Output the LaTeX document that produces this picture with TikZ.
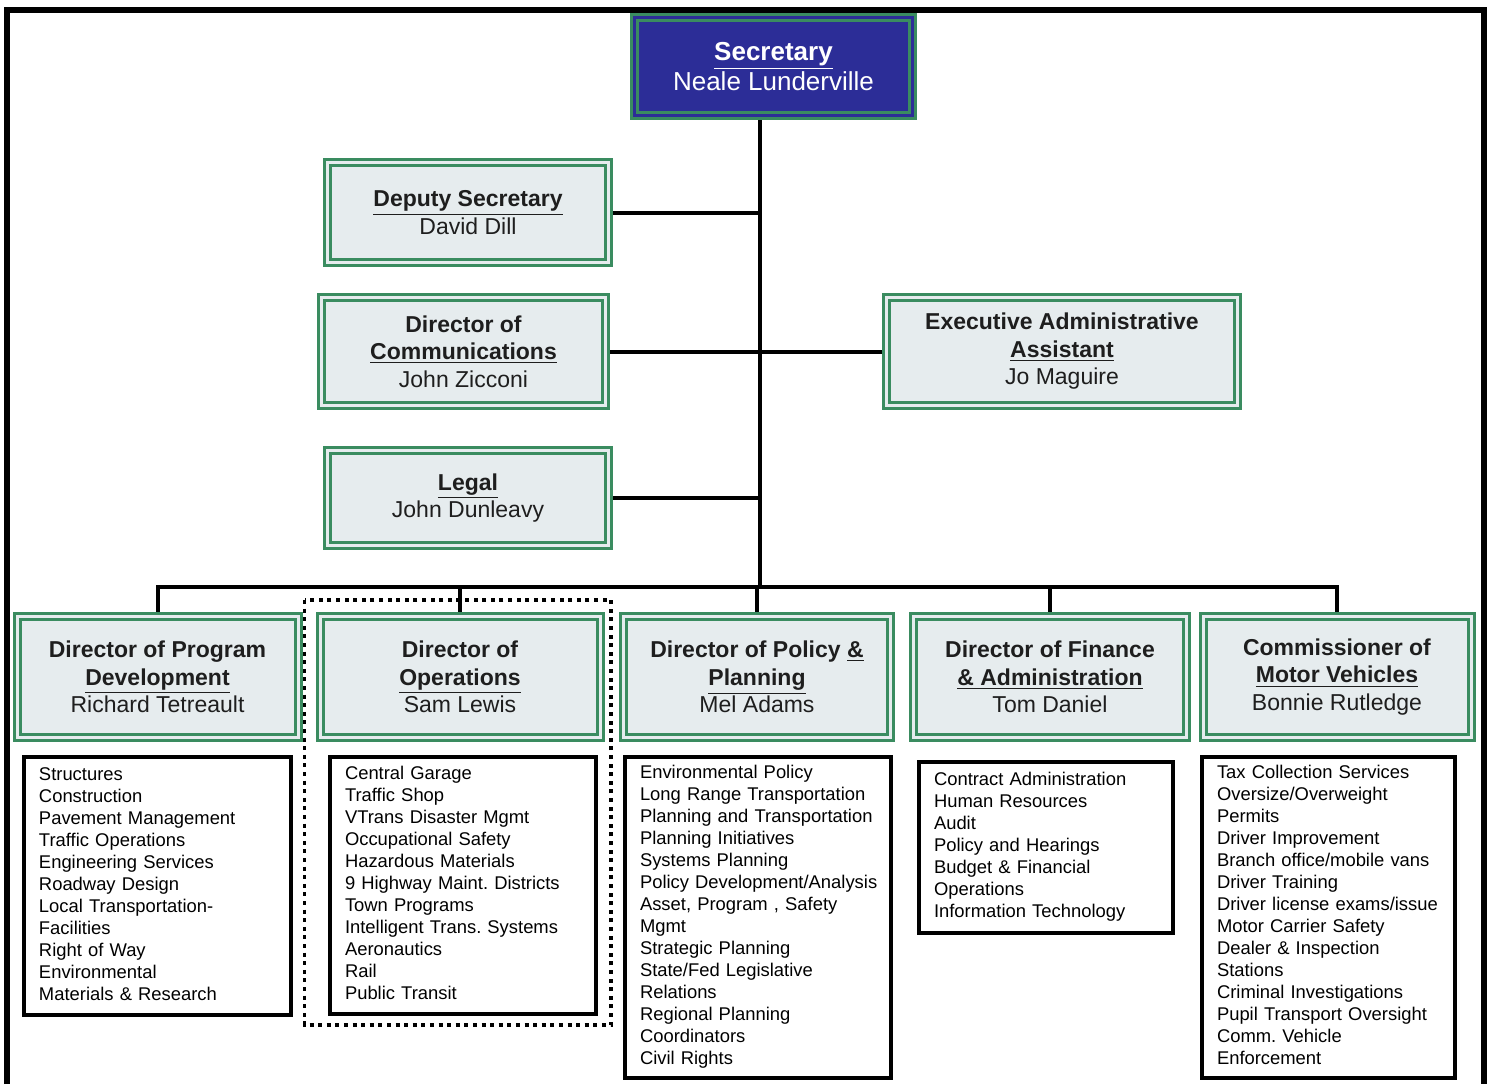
\documentclass[tikz,border=0pt]{standalone}
\usepackage{fontspec}
\setmainfont{Liberation Sans}
\usepackage{xcolor}
\usepackage{tikz}
\usetikzlibrary{backgrounds,positioning}
\frenchspacing
\definecolor{vtGreen}{HTML}{3A8C60}
\definecolor{vtFill}{HTML}{E6ECEE}
\definecolor{vtBlue}{HTML}{2C2D97}
\definecolor{vtInk}{HTML}{1E1E1E}
\newcommand{\ulbf}[1]{\underline{\textbf{#1}}}
\newcommand{\vtitems}[1]{\begin{tabular}{@{}l@{}}#1\end{tabular}}
\tikzset{
  vt chart/.style={x=0.5pt, y=-0.5pt, line join=miter},
  vt box/.style={draw=vtGreen, double=vtFill, double distance=1.5pt,
    line width=1.5pt, fill=vtFill, align=center, text=vtInk, inner sep=2pt,
    font=\fontsize{11.5}{13.75}\selectfont},
  vt top box/.style={vt box, fill=vtBlue, double=vtBlue, text=white,
    font=\fontsize{13}{15}\selectfont},
  vt list/.style={draw=black, line width=2pt, fill=white, align=left,
    inner xsep=7.5pt, inner ysep=0pt, font=\fontsize{9.2}{11}\selectfont},
  vt wire/.style={draw=black, line width=2pt},
  vt frame/.style={draw=black, line width=3pt},
  vt group/.style={draw=black, line width=1.8pt, dash pattern=on 2pt off 2.3pt}
}

\begin{document}
\begin{tikzpicture}[vt chart]
\useasboundingbox (0,0) rectangle (1489,1084);
\draw[vt frame] (7,1084) -- (7,10) -- (1484,10) -- (1484,1084);
\coordinate (bus) at (760,587);

\node[vt top box, minimum width=139pt, minimum height=49pt] (sec) at (773.5,66.5)
  {\ulbf{Secretary}\\Neale Lunderville};
\node[vt box, minimum width=140.5pt, minimum height=50pt] (dep) at (468,212.5)
  {\ulbf{Deputy Secretary}\\David Dill};
\node[vt box, minimum width=142pt, minimum height=54pt] (com) at (463.5,351.5)
  {\textbf{Director of}\\\ulbf{Communications}\\John Zicconi};
\node[vt box, minimum width=175.5pt, minimum height=54pt] (exe) at (1062,351.5)
  {\textbf{Executive Administrative}\\\ulbf{Assistant}\\Jo Maguire};
\node[vt box, minimum width=140.5pt, minimum height=47.5pt] (leg) at (468,498)
  {\ulbf{Legal}\\John Dunleavy};

\node[vt box, minimum width=140.5pt, minimum height=60.5pt] (prog) at (157.5,677)
  {\textbf{Director of Program}\\\ulbf{Development}\\Richard Tetreault};
\node[vt box, minimum width=140pt, minimum height=60.5pt] (ops) at (460,677)
  {\textbf{Director of}\\\ulbf{Operations}\\Sam Lewis};
\node[vt box, minimum width=133.5pt, minimum height=60.5pt] (pol) at (757,677)
  {\textbf{Director of Policy \underline{\&}}\\\ulbf{Planning}\\Mel Adams};
\node[vt box, minimum width=136.5pt, minimum height=60.5pt] (fin) at (1050,677)
  {\textbf{Director of Finance}\\\ulbf{\& Administration}\\Tom Daniel};
\node[vt box, minimum width=134pt, minimum height=60.5pt] (dmv) at (1337,677)
  {\textbf{Commissioner of}\\\ulbf{Motor Vehicles}\\Bonnie Rutledge};

\node[vt list, text width=118.5pt, minimum height=129pt] (progList) at (157.5,886)
  {\vtitems{Structures\\Construction\\Pavement Management\\Traffic Operations\\
  Engineering Services\\Roadway Design\\Local Transportation-\\Facilities\\
  Right of Way\\Environmental\\Materials \& Research}};
\node[vt list, text width=118pt, minimum height=128.5pt] (opsList) at (463,885.5)
  {\vtitems{Central Garage\\Traffic Shop\\VTrans Disaster Mgmt\\Occupational Safety\\
  Hazardous Materials\\9 Highway Maint. Districts\\Town Programs\\
  Intelligent Trans. Systems\\Aeronautics\\Rail\\Public Transit}};
\node[vt list, text width=118pt, minimum height=160.5pt] (polList) at (758,917.5)
  {\vtitems{Environmental Policy\\Long Range Transportation\\Planning and Transportation\\
  Planning Initiatives\\Systems Planning\\Policy Development/Analysis\\
  Asset, Program , Safety\\Mgmt\\Strategic Planning\\State/Fed Legislative\\
  Relations\\Regional Planning\\Coordinators\\Civil Rights}};
\node[vt list, text width=112pt, minimum height=85.5pt] (finList) at (1046,847.5)
  {\vtitems{Contract Administration\\Human Resources\\Audit\\Policy and Hearings\\
  Budget \& Financial\\Operations\\Information Technology}};
\node[vt list, text width=111.5pt, minimum height=160.5pt] (dmvList) at (1328.5,917.5)
  {\vtitems{Tax Collection Services\\Oversize/Overweight\\Permits\\Driver Improvement\\
  Branch office/mobile vans\\Driver Training\\Driver license exams/issue\\
  Motor Carrier Safety\\Dealer \& Inspection\\Stations\\Criminal Investigations\\
  Pupil Transport Oversight\\Comm. Vehicle\\Enforcement}};

\begin{scope}[on background layer]
\draw[vt group] (304.5,600) rectangle (611,1025);
\draw[vt wire] (bus |- sec.center) -- (bus);
\draw[vt wire] (dep.center) -- (dep.center -| bus);
\draw[vt wire] (com.center) -- (exe.center);
\draw[vt wire] (leg.center) -- (leg.center -| bus);
\draw[vt wire] (prog.center) |- (bus) -| (dmv.center);
\foreach \u in {ops,pol,fin}
  \draw[vt wire] (\u.center) -- (\u.center |- bus);
\end{scope}
\end{tikzpicture}
\end{document}
